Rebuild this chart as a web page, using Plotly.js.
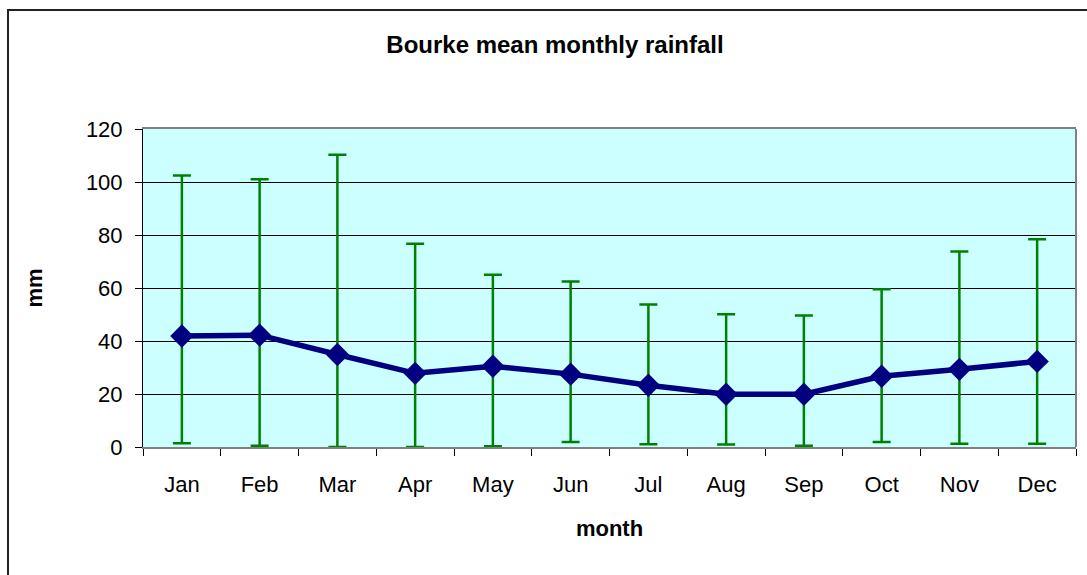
<!DOCTYPE html>
<html>
<head>
<meta charset="utf-8">
<script src="https://cdn.plot.ly/plotly-3.0.1.min.js"></script>
<style>
  html, body { margin: 0; padding: 0; background: #ffffff; overflow: hidden; }
  #chart { position: absolute; left: 0; top: 0; width: 1087px; height: 575px; }
  #frame { position: absolute; left: 7px; top: 9px; width: 1200px; height: 700px;
           border: 2px solid #222222; pointer-events: none; z-index: 10; }
</style>
</head>
<body>
<div id="chart"></div>
<div id="frame"></div>
<script>
const months = ["Jan","Feb","Mar","Apr","May","Jun","Jul","Aug","Sep","Oct","Nov","Dec"];
const meanRain = [41.9, 42.2, 34.9, 27.8, 30.5, 27.5, 23.3, 19.9, 19.9, 26.7, 29.3, 32.3];
const upperRain = [102.5, 101.0, 110.3, 76.7, 65.0, 62.5, 53.8, 50.1, 49.6, 59.5, 73.8, 78.4];
const lowerRain = [1.4, 0.5, 0.0, 0.0, 0.3, 1.9, 1.0, 0.9, 0.5, 1.9, 1.2, 1.2];
const yTicks = [0, 20, 40, 60, 80, 100, 120];

const errPlus = upperRain.map((u, i) => u - meanRain[i]);
const errMinus = lowerRain.map((l, i) => meanRain[i] - l);

const font = "Liberation Sans, Arial, sans-serif";

const traces = [
  {
    x: months, y: meanRain, type: "scatter", mode: "markers",
    marker: { size: 1, opacity: 0 },
    error_y: { type: "data", symmetric: false, array: errPlus, arrayminus: errMinus,
               color: "#008000", thickness: 2.5, width: 9 },
    hoverinfo: "skip", showlegend: false
  },
  {
    x: months, y: meanRain, type: "scatter", mode: "lines+markers",
    line: { color: "#000080", width: 5.5 },
    marker: { symbol: "diamond", size: 18, color: "#000080" },
    showlegend: false
  }
];

const layout = {
  width: 1087, height: 575,
  margin: { l: 143, r: 11, t: 129, b: 128 },
  paper_bgcolor: "rgba(0,0,0,0)",
  plot_bgcolor: "#CCFFFF",
  font: { family: font, color: "#000000", size: 22 },
  title: { text: "<b>Bourke mean monthly rainfall</b>", font: { family: font, size: 24, color: "#000" },
           x: 555 / 1087, xref: "container", xanchor: "center",
           y: 1 - 45 / 575, yref: "container", yanchor: "middle" },
  xaxis: {
    type: "category", range: [-0.5, 11.5], tickson: "boundaries",
    ticks: "outside", ticklen: 7, tickcolor: "#000", tickwidth: 1,
    ticklabelstandoff: 17,
    showline: true, linecolor: "#808080", linewidth: 2, mirror: true,
    showgrid: false, zeroline: false,
    tickfont: { family: font, size: 22 },
    title: { text: "<b>month</b>", font: { family: font, size: 22 }, standoff: 24 }
  },
  yaxis: {
    range: [0, 120], tickvals: yTicks, ticktext: yTicks.map(String),
    ticks: "outside", ticklen: 7, tickcolor: "#000", tickwidth: 1,
    ticklabelstandoff: 8,
    showline: true, linecolor: "#000000", linewidth: 1,
    showgrid: true, gridcolor: "#000000", gridwidth: 1,
    zeroline: false,
    tickfont: { family: font, size: 22 },
    title: { text: "<b>mm</b>", font: { family: font, size: 22 }, standoff: 37 }
  },
  shapes: [
    { type: "line", xref: "paper", yref: "paper", x0: 1, x1: 1, y0: 0, y1: 1,
      line: { color: "#808080", width: 2 } }
  ]
};

Plotly.newPlot("chart", traces, layout, { displayModeBar: false, staticPlot: true });
</script>
</body>
</html>
